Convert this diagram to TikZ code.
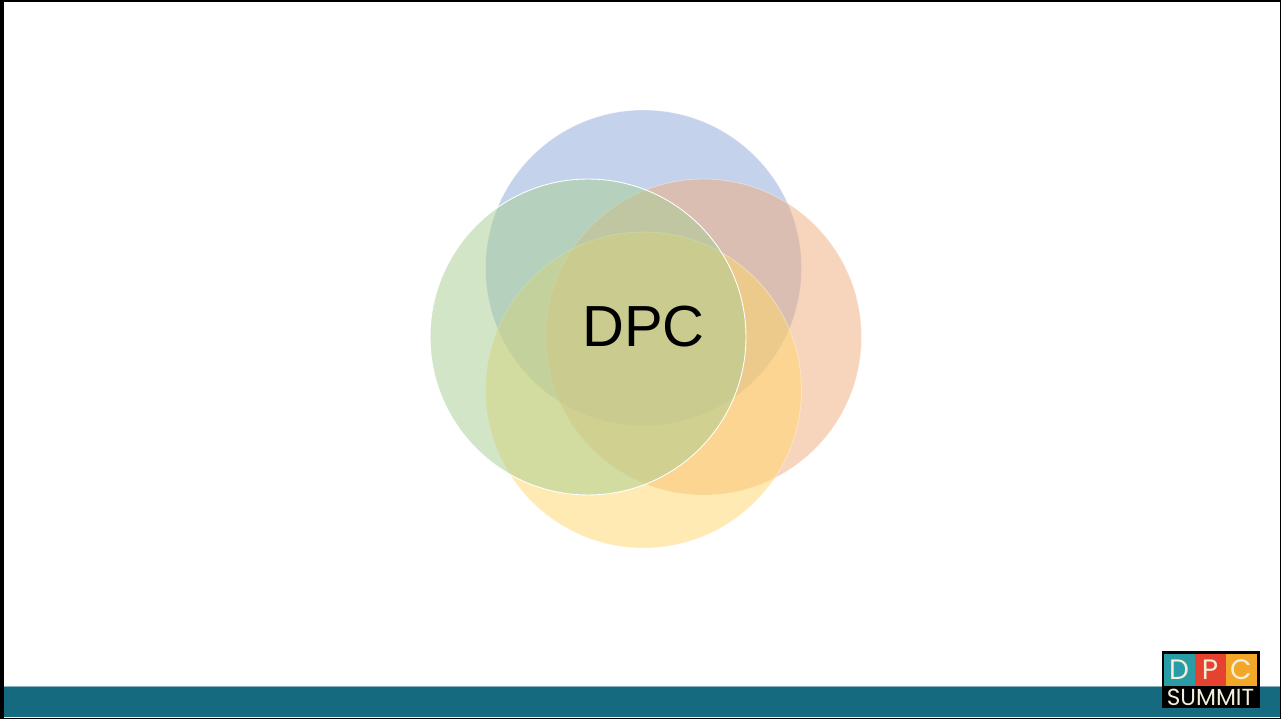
\documentclass[tikz,border=0pt]{standalone}
\usepackage{fontspec}
\setmainfont{Liberation Sans}
\newfontfamily\logofont{Poppins}
\definecolor{ringblue}{HTML}{8BA7D9}
\definecolor{ringorange}{HTML}{F0AB7B}
\definecolor{ringyellow}{HTML}{FFD668}
\definecolor{ringgreen}{HTML}{A7CF91}
\definecolor{barteal}{HTML}{166A80}
\definecolor{logoteal}{HTML}{2A9CA6}
\definecolor{logored}{HTML}{E5432F}
\definecolor{logoamber}{HTML}{F2A728}
\definecolor{logotext}{HTML}{F4EFD8}
\begin{document}
\begin{tikzpicture}
  [x=0.02cm, y=-0.02cm,
   ring/.style={circle, inner sep=0pt, minimum size=6.32cm, fill opacity=0.5, draw=white, draw opacity=0.35, line width=0.5pt},
   logobox/.style={inner sep=0pt, minimum width=0.62cm, minimum height=0.64cm, text=logotext, font=\logofont\fontsize{16pt}{16pt}\selectfont}]
  \useasboundingbox (0,0) rectangle (1281,719);
  \fill[white] (0,0) rectangle (1281,719);
  \fill[barteal] (4,686) rectangle (1280,717);
  \fill[barteal!50!white] (4,686) rectangle (1280,687);
  % frame
  \fill[black] (0,0) rectangle (4,719);
  \fill[black] (0,0) rectangle (1281,2);
  \fill[black] (1279.5,0) rectangle (1281,719);
  \fill[black] (0,717.5) rectangle (1281,719);
  % rings
  \node[ring, fill=ringblue] (blue) at (643.5,268) {};
  \node[ring, fill=ringorange] (orange) at (703.5,337) {};
  \node[ring, fill=ringyellow] (yellow) at (643.5,390) {};
  \node[ring, fill=ringgreen, draw opacity=1] (green) at (588,337) {};
  \node[font=\fontsize{33pt}{33pt}\selectfont] (dpc) at (643.5,327) {DPC};
  % logo
  \fill[black] (1162,651) rectangle (1260,708);
  \node[logobox, fill=logoteal] (d) at (1179,670) {D};
  \node[logobox, fill=logored] (p) at (1210,670) {P};
  \node[logobox, fill=logoamber] (c) at (1241,670) {C};
  \node[inner sep=0pt, text=logotext, font=\logofont\fontsize{13.2pt}{13.2pt}\selectfont] (summit) at (1210.5,697) {SUMMIT};
\end{tikzpicture}
\end{document}
